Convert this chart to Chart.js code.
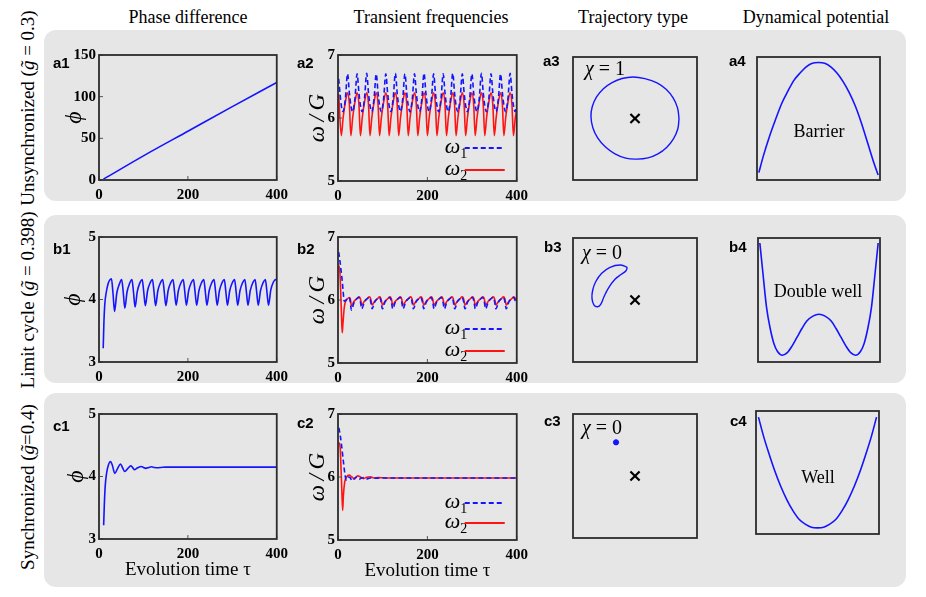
<!DOCTYPE html>
<html>
<head>
<meta charset="utf-8">
<script src="https://cdn.jsdelivr.net/npm/chart.js@4.4.1/dist/chart.umd.min.js"></script>
<style>
  html, body { margin: 0; padding: 0; background: #fff; }
  body { width: 926px; height: 597px; position: relative; overflow: hidden;
         font-family: "Liberation Serif", "Times New Roman", serif; color: #000; }
  .row { position: absolute; left: 44px; width: 862px; background: #e6e6e6; border-radius: 12px; }
  .col-title { position: absolute; top: 5px; width: 240px; text-align: center; font-size: 18px; line-height: 24px; }
  .row-label { position: absolute; left: -102px; width: 260px; height: 22px; line-height: 22px; text-align: center;
               font-family: "Liberation Serif", "Times New Roman", serif; font-size: 19px; white-space: nowrap;
               transform: rotate(-90deg); }
  .tag { position: absolute; font: bold 15px/16px "Liberation Sans", Arial, sans-serif; }
  .chi { position: absolute; width: 60px; text-align: center; font-size: 20px; line-height: 24px; }
  .pot { position: absolute; width: 120px; text-align: center; font-size: 18px; line-height: 22px; }
  canvas { position: absolute; }
</style>
</head>
<body>

<div class="row" style="top:30px;height:171px"></div>
<div class="row" style="top:215px;height:168px"></div>
<div class="row" style="top:393px;height:194px"></div>

<div class="col-title" style="left:68px">Phase difference</div>
<div class="col-title" style="left:311px">Transient frequencies</div>
<div class="col-title" style="left:513px">Trajectory type</div>
<div class="col-title" style="left:696px">Dynamical potential</div>

<div class="row-label" style="top:97px">Unsynchronized (<i>g&#x303;</i> = 0.3)</div>
<div class="row-label" style="top:289px">Limit cycle (<i>g&#x303;</i> = 0.398)</div>
<div class="row-label" style="top:476px">Synchronized (<i>g&#x303;</i>=0.4)</div>

<script>
// ---------- values ----------

// a1  phase difference, unsynchronized
const tA1 = [10, 100, 200, 300, 400];
const phiA1 = [1, 29, 58.5, 88, 117];

// a2  transient frequencies, unsynchronized
const tA2 = [1.5,
  7.4, 11.4, 16.4, 21.4, 25.4,
  28.8, 32.8, 37.8, 42.8, 46.8,
  50.2, 54.2, 59.2, 64.2, 68.2,
  71.6, 75.6, 80.6, 85.6, 89.6,
  93, 97, 102, 107, 111,
  114.4, 118.4, 123.4, 128.4, 132.4,
  135.8, 139.8, 144.8, 149.8, 153.8,
  157.2, 161.2, 166.2, 171.2, 175.2,
  178.6, 182.6, 187.6, 192.6, 196.6,
  200, 204, 209, 214, 218,
  221.4, 225.4, 230.4, 235.4, 239.4,
  242.8, 246.8, 251.8, 256.8, 260.8,
  264.2, 268.2, 273.2, 278.2, 282.2,
  285.6, 289.6, 294.6, 299.6, 303.6,
  307, 311, 316, 321, 325,
  328.4, 332.4, 337.4, 342.4, 346.4,
  349.8, 353.8, 358.8, 363.8, 367.8,
  371.2, 375.2, 380.2, 385.2, 389.2,
  392.6, 396.6, 400];
const w1A2 = [6.62,
  6.2, 6.1, 6.3, 6.7, 6.4,
  6.2, 6.1, 6.3, 6.7, 6.4,
  6.2, 6.1, 6.3, 6.71, 6.4,
  6.2, 6.1, 6.3, 6.7, 6.4,
  6.2, 6.1, 6.3, 6.7, 6.4,
  6.2, 6.1, 6.3, 6.71, 6.4,
  6.2, 6.1, 6.3, 6.7, 6.4,
  6.2, 6.1, 6.3, 6.7, 6.4,
  6.2, 6.1, 6.3, 6.71, 6.4,
  6.2, 6.1, 6.3, 6.7, 6.4,
  6.2, 6.1, 6.3, 6.7, 6.4,
  6.2, 6.1, 6.3, 6.71, 6.4,
  6.2, 6.1, 6.3, 6.7, 6.4,
  6.2, 6.1, 6.3, 6.7, 6.4,
  6.2, 6.1, 6.3, 6.71, 6.4,
  6.2, 6.1, 6.3, 6.7, 6.4,
  6.2, 6.1, 6.3, 6.7, 6.4,
  6.2, 6.1, 6.3, 6.71, 6.4,
  6.2, 6.1, 6.2];
const w2A2 = [6.38,
  5.72, 6.0, 6.25, 6.4, 6.22,
  5.72, 6.0, 6.25, 6.4, 6.22,
  5.72, 6.0, 6.25, 6.4, 6.22,
  5.72, 6.0, 6.25, 6.4, 6.22,
  5.72, 6.0, 6.25, 6.4, 6.22,
  5.72, 6.0, 6.25, 6.4, 6.22,
  5.72, 6.0, 6.25, 6.4, 6.22,
  5.72, 6.0, 6.25, 6.4, 6.22,
  5.72, 6.0, 6.25, 6.4, 6.22,
  5.72, 6.0, 6.25, 6.4, 6.22,
  5.72, 6.0, 6.25, 6.4, 6.22,
  5.72, 6.0, 6.25, 6.4, 6.22,
  5.72, 6.0, 6.25, 6.4, 6.22,
  5.72, 6.0, 6.25, 6.4, 6.22,
  5.72, 6.0, 6.25, 6.4, 6.22,
  5.72, 6.0, 6.25, 6.4, 6.22,
  5.72, 6.0, 6.25, 6.4, 6.22,
  5.72, 6.0, 6.25, 6.4, 6.22,
  5.72, 6.0, 6.12];

// b1  phase difference, limit cycle
const tB1 = [9.5, 11, 13, 16, 20, 24, 28, 31.5,
  35, 40, 46, 51, 54.5,
  58.1, 63.1, 69.1, 74.1, 77.6,
  81.2, 86.2, 92.2, 97.2, 100.7,
  104.3, 109.3, 115.3, 120.3, 123.8,
  127.4, 132.4, 138.4, 143.4, 146.9,
  150.5, 155.5, 161.5, 166.5, 170,
  173.6, 178.6, 184.6, 189.6, 193.1,
  196.7, 201.7, 207.7, 212.7, 216.2,
  219.8, 224.8, 230.8, 235.8, 239.3,
  242.9, 247.9, 253.9, 258.9, 262.4,
  266, 271, 277, 282, 285.5,
  289.1, 294.1, 300.1, 305.1, 308.6,
  312.2, 317.2, 323.2, 328.2, 331.7,
  335.3, 340.3, 346.3, 351.3, 354.8,
  358.4, 363.4, 369.4, 374.4, 377.9,
  381.5, 386.5, 392.5, 397.5, 400];
const phiB1 = [3.22, 3.62, 3.92, 4.1, 4.24, 4.31, 4.33, 4.1,
  3.81, 4.1, 4.25, 4.32, 4.12,
  3.86, 4.12, 4.26, 4.32, 4.12,
  3.88, 4.13, 4.27, 4.32, 4.12,
  3.9, 4.14, 4.27, 4.32, 4.12,
  3.9, 4.14, 4.27, 4.32, 4.12,
  3.9, 4.14, 4.27, 4.32, 4.12,
  3.91, 4.14, 4.27, 4.32, 4.12,
  3.91, 4.14, 4.27, 4.32, 4.12,
  3.91, 4.14, 4.27, 4.32, 4.12,
  3.91, 4.14, 4.27, 4.32, 4.12,
  3.91, 4.14, 4.27, 4.32, 4.12,
  3.91, 4.14, 4.27, 4.32, 4.12,
  3.91, 4.14, 4.27, 4.32, 4.12,
  3.91, 4.14, 4.27, 4.32, 4.12,
  3.91, 4.14, 4.27, 4.32, 4.12,
  3.91, 4.15, 4.28, 4.32, 4.3];

// b2  transient frequencies, limit cycle (one time grid for both)
const tB2 = [1.5, 4, 6, 8, 9.5, 11, 14, 17, 21, 25, 27.5,
  30, 36, 42, 47, 50,
  53.1, 59.1, 65.1, 70.1, 73.1,
  76.2, 82.2, 88.2, 93.2, 96.2,
  99.3, 105.3, 111.3, 116.3, 119.3,
  122.4, 128.4, 134.4, 139.4, 142.4,
  145.5, 151.5, 157.5, 162.5, 165.5,
  168.6, 174.6, 180.6, 185.6, 188.6,
  191.7, 197.7, 203.7, 208.7, 211.7,
  214.8, 220.8, 226.8, 231.8, 234.8,
  237.9, 243.9, 249.9, 254.9, 257.9,
  261, 267, 273, 278, 281,
  284.1, 290.1, 296.1, 301.1, 304.1,
  307.2, 313.2, 319.2, 324.2, 327.2,
  330.3, 336.3, 342.3, 347.3, 350.3,
  353.4, 359.4, 365.4, 370.4, 373.4,
  376.5, 382.5, 388.5, 393.5, 396.5,
  400];
const w1B2 = [6.76, 6.64, 6.52, 6.4, 6.3, 6.18, 5.98, 5.99, 6.02, 6.04, 5.97,
  5.84, 5.96, 6.02, 6.04, 5.98,
  5.86, 5.97, 6.02, 6.04, 5.98,
  5.86, 5.97, 6.02, 6.04, 5.98,
  5.86, 5.97, 6.02, 6.04, 5.98,
  5.86, 5.97, 6.02, 6.04, 5.98,
  5.86, 5.97, 6.02, 6.04, 5.98,
  5.86, 5.97, 6.02, 6.04, 5.98,
  5.86, 5.97, 6.02, 6.04, 5.98,
  5.86, 5.97, 6.02, 6.04, 5.98,
  5.86, 5.97, 6.02, 6.04, 5.98,
  5.86, 5.97, 6.02, 6.04, 5.98,
  5.86, 5.97, 6.02, 6.04, 5.98,
  5.86, 5.97, 6.02, 6.04, 5.98,
  5.86, 5.97, 6.02, 6.04, 5.98,
  5.86, 5.97, 6.02, 6.04, 5.98,
  5.86, 5.97, 6.02, 6.04, 5.99,
  5.95];
const w2B2 = [6.55, 6.47, 6.15, 5.7, 5.48, 5.62, 5.88, 5.98, 6.02, 6.04, 6.02,
  5.91, 5.98, 6.02, 6.05, 6.02,
  5.92, 5.98, 6.02, 6.05, 6.02,
  5.92, 5.98, 6.02, 6.05, 6.02,
  5.92, 5.98, 6.02, 6.05, 6.02,
  5.92, 5.98, 6.02, 6.05, 6.02,
  5.92, 5.98, 6.02, 6.05, 6.02,
  5.92, 5.98, 6.02, 6.05, 6.02,
  5.92, 5.98, 6.02, 6.05, 6.02,
  5.92, 5.98, 6.02, 6.05, 6.02,
  5.92, 5.98, 6.02, 6.05, 6.02,
  5.92, 5.98, 6.02, 6.05, 6.02,
  5.92, 5.98, 6.02, 6.05, 6.02,
  5.92, 5.98, 6.02, 6.05, 6.02,
  5.92, 5.98, 6.02, 6.05, 6.02,
  5.92, 5.98, 6.02, 6.05, 6.02,
  5.92, 5.98, 6.02, 6.05, 6.03,
  5.98];

// c1  phase difference, synchronized
const tC1 = [10.5, 12, 14, 17, 21, 26, 30, 35.5, 42, 48.5, 53, 58, 65, 71.5, 75, 79.5,
  87, 95, 100, 105, 112, 118, 125, 132, 140, 150, 200, 300, 400];
const phiC1 = [3.22, 3.55, 3.85, 4.05, 4.18, 4.24, 4.18, 4.05, 4.13, 4.2, 4.14, 4.08, 4.13, 4.17, 4.15, 4.11,
  4.14, 4.16, 4.145, 4.13, 4.145, 4.155, 4.145, 4.14, 4.145, 4.15, 4.15, 4.15, 4.15];

// c2  transient frequencies, synchronized
const tC2w1 = [2, 5, 8, 12, 16, 19, 23, 27, 32, 37, 42, 47, 52, 58, 64, 72, 82, 95, 120, 400];
const w1C2 = [6.78, 6.66, 6.5, 6.25, 6.02, 5.95, 6.0, 5.99, 5.94, 5.98, 6.0, 5.96, 5.985, 5.99, 5.97,
  5.985, 5.98, 5.985, 5.985, 5.985];
const tC2w2 = [2.5, 5, 7, 9, 10.5, 12, 15, 19, 25, 31, 37, 44, 50, 57, 64, 72, 80, 90, 110, 400];
const w2C2 = [6.55, 6.45, 6.1, 5.7, 5.47, 5.7, 5.92, 6.0, 6.03, 6.0, 5.97, 6.02, 6.0, 5.975, 5.995,
  6.005, 5.985, 5.99, 5.985, 5.985];

// a3 / b3 / c3  trajectories (phase plane, box spans -1..1)
const fixedPoint = [0, 0];
const orbitA3x = [0.71, 0.686, 0.615, 0.502, 0.355, 0.16, -0.03, -0.21, -0.37, -0.51, -0.62, -0.69, -0.71,
  -0.68, -0.6, -0.48, -0.33, -0.15, 0.03, 0.21, 0.37, 0.51, 0.62, 0.69, 0.71];
const orbitA3y = [0, 0.173, 0.335, 0.474, 0.58, 0.648, 0.675, 0.65, 0.585, 0.485, 0.35, 0.19, 0.03,
  -0.15, -0.32, -0.46, -0.57, -0.645, -0.66, -0.64, -0.575, -0.47, -0.33, -0.17, 0];
const orbitB3x = [-0.124, -0.242, -0.403, -0.537, -0.634, -0.682, -0.694, -0.661, -0.602, -0.553, -0.5,
  -0.431, -0.323, -0.215, -0.145, -0.124];
const orbitB3y = [0.527, 0.565, 0.527, 0.431, 0.295, 0.161, 0.027, -0.081, -0.108, -0.069, 0.053,
  0.189, 0.334, 0.419, 0.473, 0.527];
const stateC3 = [-0.306, 0.543];

// a4 / b4 / c4  dynamical potentials (box spans 0..1)
const qA4 = [0.015, 0.05, 0.1, 0.15, 0.2, 0.25, 0.3, 0.35, 0.4, 0.45, 0.5, 0.55, 0.6, 0.65, 0.7, 0.75, 0.8, 0.85, 0.9, 0.95, 0.985];
const vA4 = [0.06, 0.19, 0.35, 0.49, 0.62, 0.72, 0.81, 0.87, 0.92, 0.95, 0.955, 0.95, 0.92, 0.87, 0.8, 0.71, 0.6, 0.46, 0.3, 0.14, 0.04];
const qB4 = [0.015, 0.04, 0.07, 0.1, 0.13, 0.16, 0.2, 0.24, 0.28, 0.32, 0.36, 0.4, 0.45, 0.5,
  0.55, 0.6, 0.64, 0.68, 0.72, 0.76, 0.8, 0.84, 0.87, 0.9, 0.93, 0.96, 0.985];
const vB4 = [0.96, 0.72, 0.44, 0.27, 0.15, 0.085, 0.055, 0.075, 0.13, 0.2, 0.27, 0.33, 0.37, 0.385,
  0.37, 0.33, 0.27, 0.2, 0.13, 0.075, 0.055, 0.085, 0.15, 0.27, 0.44, 0.72, 0.96];
const qC4 = [0.02, 0.06, 0.1, 0.15, 0.2, 0.25, 0.3, 0.35, 0.4, 0.45, 0.5, 0.55, 0.6, 0.65, 0.7, 0.75, 0.8, 0.85, 0.9, 0.94, 0.98];
const vC4 = [0.95, 0.8, 0.67, 0.52, 0.39, 0.28, 0.19, 0.12, 0.08, 0.055, 0.05, 0.055, 0.08, 0.12, 0.19, 0.28, 0.39, 0.52, 0.67, 0.8, 0.95];

// ---------- drawing ----------

const SERIF = '"Liberation Serif", "Times New Roman", serif';
const BLUE = 'rgb(20, 20, 255)';
const RED = 'rgb(255, 20, 20)';
const OMEGA_G = 'ω\u2009/\u2009G';

Chart.defaults.font.family = SERIF;
Chart.defaults.color = '#000';

const zip = (xs, ys) => xs.map((x, i) => ({ x: x, y: ys[i] }));

// frame round the plot area plus small inward ticks
const framePlugin = {
    id: 'frame',
    afterDraw(chart, args, opts) {
        const { ctx, chartArea: a } = chart;
        ctx.save();
        if (opts.ticks) {
            ctx.strokeStyle = '#555';
            ctx.lineWidth = 1;
            chart.scales.x.ticks.forEach(t => {
                const px = chart.scales.x.getPixelForValue(t.value);
                ctx.beginPath(); ctx.moveTo(px, a.bottom); ctx.lineTo(px, a.bottom - 4); ctx.stroke();
            });
            chart.scales.y.ticks.forEach(t => {
                const py = chart.scales.y.getPixelForValue(t.value);
                ctx.beginPath(); ctx.moveTo(a.left, py); ctx.lineTo(a.left + 4, py); ctx.stroke();
            });
        }
        ctx.strokeStyle = '#2c2c2c';
        ctx.lineWidth = 1.8;
        ctx.strokeRect(a.left, a.top, a.width, a.height);
        ctx.restore();
    }
};

// omega legend drawn inside the lower right corner
const innerLegend = {
    id: 'innerLegend',
    afterDatasetsDraw(chart, args, opts) {
        if (!opts.rows) return;
        const { ctx, chartArea: a } = chart;
        chart.data.datasets.forEach((ds, i) => {
            const y = a.bottom + opts.rows[i];
            const x = a.right - 72;
            ctx.save();
            ctx.fillStyle = '#000';
            ctx.font = 'italic 22px ' + SERIF;
            ctx.fillText('ω', x, y + 5);
            const w = ctx.measureText('ω').width;
            ctx.font = '14px ' + SERIF;
            ctx.fillText(ds.sub, x + w, y + 10);
            ctx.strokeStyle = ds.borderColor;
            ctx.lineWidth = 2;
            ctx.setLineDash(ds.borderDash || []);
            ctx.beginPath(); ctx.moveTo(a.right - 52, y); ctx.lineTo(a.right - 12, y); ctx.stroke();
            ctx.restore();
        });
    }
};

Chart.register(framePlugin, innerLegend);

function addCanvas(left, top, w, h) {
    const cv = document.createElement('canvas');
    cv.width = w; cv.height = h;
    cv.style.left = left + 'px';
    cv.style.top = top + 'px';
    cv.style.width = w + 'px';
    cv.style.height = h + 'px';
    document.body.appendChild(cv);
    return cv;
}

function lineSet(xs, ys, color, dash, label, sub) {
    return {
        label: label, sub: sub,
        data: zip(xs, ys),
        showLine: true, borderColor: color, borderWidth: 1.6, borderDash: dash || [],
        pointRadius: 0, fill: false, cubicInterpolationMode: 'monotone'
    };
}

// time series panel; box = [left, top, right, bottom] of the frame
function timePanel(box, datasets, o) {
    const padTop = 12, padRight = 16, yW = 44, xH = o.xTitle ? 46 : 24;
    const w = yW + (box[2] - box[0]) + padRight;
    const h = padTop + (box[3] - box[1]) + xH;
    const cv = addCanvas(box[0] - yW, box[1] - padTop, w, h);
    const tickFont = { family: SERIF, size: 15, weight: 'bold' };
    new Chart(cv, {
        type: 'scatter',
        data: { datasets: datasets },
        options: {
            responsive: false, animation: false, events: [],
            layout: { autoPadding: false, padding: { top: padTop, right: padRight, left: 0, bottom: 0 } },
            plugins: {
                legend: { display: false }, tooltip: { enabled: false },
                frame: { ticks: true },
                innerLegend: { rows: o.legendRows || null }
            },
            scales: {
                x: {
                    type: 'linear', min: 0, max: 400,
                    grid: { display: false, drawTicks: false }, border: { display: false },
                    ticks: { stepSize: 200, padding: 6, maxRotation: 0, font: tickFont, color: '#000' },
                    title: o.xTitle ? { display: true, text: o.xTitle, font: { family: SERIF, size: 19 }, padding: { top: 0, bottom: 4 } } : { display: false },
                    afterFit: s => { s.height = xH; }
                },
                y: {
                    type: 'linear', min: o.yMin, max: o.yMax,
                    grid: { display: false, drawTicks: false }, border: { display: false },
                    ticks: { stepSize: o.yStep, padding: 3, font: tickFont, color: '#000' },
                    title: { display: true, text: o.yTitle, font: { family: SERIF, size: o.titleSize, style: 'italic' }, padding: { top: o.titlePad, bottom: 0 } },
                    afterFit: s => { s.width = yW; }
                }
            }
        }
    });
}

// box panel without axes (trajectory / potential)
function boxPanel(box, datasets, range) {
    const m = 4;
    const cv = addCanvas(box[0] - m, box[1] - m, box[2] - box[0] + 2 * m, box[3] - box[1] + 2 * m);
    new Chart(cv, {
        type: 'scatter',
        data: { datasets: datasets },
        options: {
            responsive: false, animation: false, events: [],
            layout: { autoPadding: false, padding: m },
            plugins: { legend: { display: false }, tooltip: { enabled: false }, frame: { ticks: false } },
            scales: {
                x: { type: 'linear', display: false, min: range[0], max: range[1] },
                y: { type: 'linear', display: false, min: range[2], max: range[3] }
            }
        }
    });
}

function crossSet() {
    return {
        data: [{ x: fixedPoint[0], y: fixedPoint[1] }],
        pointStyle: 'crossRot', pointRadius: 6.5, borderColor: '#000', borderWidth: 2.2, backgroundColor: '#000'
    };
}

function orbitSet(xs, ys) {
    return {
        data: zip(xs, ys), showLine: true, borderColor: BLUE, borderWidth: 1.4,
        pointRadius: 0, fill: false, tension: 0.4
    };
}

function potSet(xs, ys) {
    return lineSet(xs, ys, BLUE, null);
}

// column 1: phase difference
timePanel([99, 55, 278, 180], [lineSet(tA1, phiA1, BLUE)], { yMin: 0, yMax: 150, yStep: 50, yTitle: 'ϕ', titleSize: 24, titlePad: 5 });
timePanel([99, 237, 278, 362], [lineSet(tB1, phiB1, BLUE)], { yMin: 3, yMax: 5, yStep: 1, yTitle: 'ϕ', titleSize: 24, titlePad: 4 });
timePanel([99, 414, 278, 539], [lineSet(tC1, phiC1, BLUE)], { yMin: 3, yMax: 5, yStep: 1, yTitle: 'ϕ', titleSize: 24, titlePad: 7, xTitle: 'Evolution time τ' });

// column 2: transient frequencies
timePanel([338, 55, 518, 181], [lineSet(tA2, w1A2, BLUE, [5, 3], 'ω1', '1'), lineSet(tA2, w2A2, RED, null, 'ω2', '2')],
    { yMin: 5, yMax: 7, yStep: 1, yTitle: OMEGA_G, titleSize: 23, titlePad: 10, legendRows: [-33, -11] });
timePanel([338, 237, 518, 363], [lineSet(tB2, w1B2, BLUE, [5, 3], 'ω1', '1'), lineSet(tB2, w2B2, RED, null, 'ω2', '2')],
    { yMin: 5, yMax: 7, yStep: 1, yTitle: OMEGA_G, titleSize: 23, titlePad: 10, legendRows: [-34, -12] });
timePanel([338, 414, 518, 540], [lineSet(tC2w1, w1C2, BLUE, [5, 3], 'ω1', '1'), lineSet(tC2w2, w2C2, RED, null, 'ω2', '2')],
    { yMin: 5, yMax: 7, yStep: 1, yTitle: OMEGA_G, titleSize: 23, titlePad: 10, legendRows: [-37, -17], xTitle: 'Evolution time τ' });

// column 3: trajectory type
boxPanel([573, 57, 697, 180], [orbitSet(orbitA3x, orbitA3y), crossSet()], [-1, 1, -1, 1]);
boxPanel([573, 238, 697, 362], [orbitSet(orbitB3x, orbitB3y), crossSet()], [-1, 1, -1, 1]);
boxPanel([573, 414, 697, 538], [
    { data: [{ x: stateC3[0], y: stateC3[1] }], pointRadius: 2.6, backgroundColor: BLUE, borderColor: BLUE },
    crossSet()], [-1, 1, -1, 1]);

// column 4: dynamical potential
boxPanel([757, 57, 880, 180], [potSet(qA4, vA4)], [0, 1, 0, 1]);
boxPanel([758, 238, 880, 362], [potSet(qB4, vB4)], [0, 1, 0, 1]);
boxPanel([756, 411, 879, 534], [potSet(qC4, vC4)], [0, 1, 0, 1]);
</script>

<div class="tag" style="left:53px;top:55px">a1</div>
<div class="tag" style="left:297px;top:55px">a2</div>
<div class="tag" style="left:543px;top:53px">a3</div>
<div class="tag" style="left:729px;top:53px">a4</div>
<div class="tag" style="left:53px;top:241px">b1</div>
<div class="tag" style="left:297px;top:241px">b2</div>
<div class="tag" style="left:544px;top:239px">b3</div>
<div class="tag" style="left:729px;top:239px">b4</div>
<div class="tag" style="left:53px;top:418px">c1</div>
<div class="tag" style="left:297px;top:415px">c2</div>
<div class="tag" style="left:544px;top:413px">c3</div>
<div class="tag" style="left:730px;top:413px">c4</div>

<div class="chi" style="left:575px;top:56px"><i>χ</i> = 1</div>
<div class="chi" style="left:572px;top:240px"><i>χ</i> = 0</div>
<div class="chi" style="left:572px;top:415px"><i>χ</i> = 0</div>

<div class="pot" style="left:759px;top:120px">Barrier</div>
<div class="pot" style="left:758px;top:280px">Double well</div>
<div class="pot" style="left:758px;top:466px">Well</div>

</body>
</html>
